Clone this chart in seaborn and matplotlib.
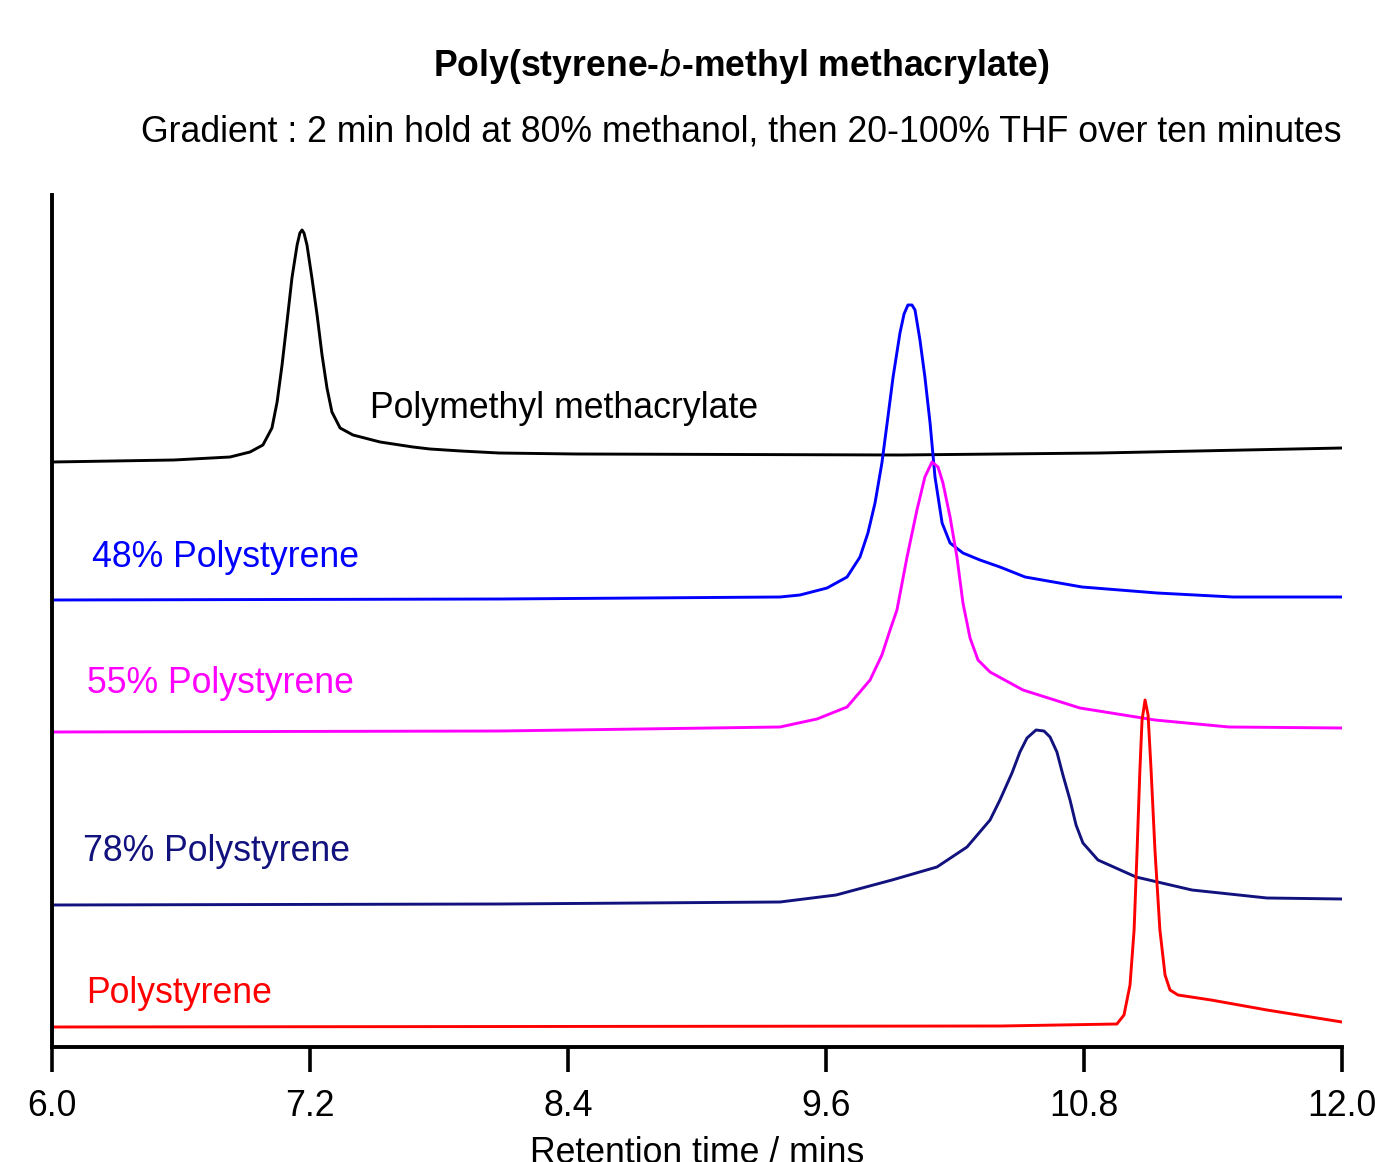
import numpy as np
import pandas as pd
import matplotlib
matplotlib.use("Agg")
import matplotlib.pyplot as plt
import seaborn as sns

# ---- data (time in min, detector response in arbitrary units, stacked) ----
pmma_t = [6.000, 6.567, 6.828, 6.921, 6.981, 7.023, 7.047, 7.070, 7.093, 7.116, 7.140, 7.153, 7.163,
          7.172, 7.186, 7.209, 7.233, 7.256, 7.279, 7.302, 7.340, 7.400, 7.526, 7.679, 7.758, 7.902,
          8.079, 8.437, 9.944, 10.874, 12.000]
pmma_s = [585, 587, 590, 595, 602, 619, 645, 682, 725, 769, 802, 814, 817,
          814, 802, 769, 732, 692, 659, 635, 619, 612, 605, 600, 598, 596,
          594, 593, 592, 594, 599]

ps48_t = [6.000, 8.084, 9.386, 9.479, 9.605, 9.698, 9.758, 9.795, 9.828, 9.860, 9.888, 9.912, 9.944,
          9.963, 9.981, 10.000, 10.014, 10.037, 10.060, 10.084, 10.107, 10.140, 10.177, 10.237, 10.316,
          10.409, 10.526, 10.791, 11.140, 11.493, 12.000]
ps48_s = [447, 448, 450, 452, 459, 470, 490, 514, 544, 584, 630, 670, 714,
          733, 742, 742, 737, 707, 670, 624, 570, 524, 504, 494, 487,
          480, 470, 460, 454, 450, 450]

ps55_t = [6.000, 8.084, 9.386, 9.558, 9.698, 9.805, 9.860, 9.898, 9.930, 9.977, 10.023, 10.060, 10.093,
          10.121, 10.144, 10.177, 10.209, 10.237, 10.270, 10.307, 10.363, 10.516, 10.781, 11.130,
          11.474, 12.000]
ps55_s = [315, 316, 320, 328, 340, 367, 392, 417, 437, 490, 537, 570, 585,
          580, 564, 530, 490, 444, 409, 387, 375, 357, 339, 327,
          320, 319]

ps78_t = [6.000, 8.084, 9.386, 9.647, 9.907, 10.116, 10.256, 10.363, 10.409, 10.465, 10.502, 10.535,
          10.577, 10.614, 10.642, 10.674, 10.702, 10.735, 10.763, 10.795, 10.865, 11.042, 11.302,
          11.651, 12.000]
ps78_s = [142, 143, 145, 152, 167, 180, 200, 227, 247, 274, 295, 309,
          317, 316, 310, 295, 272, 247, 222, 204, 187, 170, 157,
          149, 148]

ps_t = [6.000, 10.414, 10.953, 10.986, 11.014, 11.033, 11.047, 11.060, 11.070, 11.084, 11.098, 11.112,
        11.130, 11.153, 11.177, 11.200, 11.237, 11.391, 11.651, 12.000]
ps_s = [20, 21, 23, 32, 62, 117, 197, 277, 327, 347, 332, 277,
        197, 117, 72, 57, 52, 47, 37, 25]

series_names = ["Polymethyl methacrylate", "48% Polystyrene", "55% Polystyrene",
                "78% Polystyrene", "Polystyrene"]
series_colors = ["#000000", "#0000ff", "#ff00ff", "#12127e", "#ff0000"]
x_ticks = [6.0, 7.2, 8.4, 9.6, 10.8, 12.0]
x_tick_labels = ["6.0", "7.2", "8.4", "9.6", "10.8", "12.0"]

# label anchor positions (time, response)
label_pos = [(7.479, 629), (6.186, 480), (6.163, 354), (6.144, 186), (6.158, 44)]

sns.set_style("white")
plt.rcParams["font.family"] = ["Liberation Sans", "DejaVu Sans"]
plt.rcParams["text.color"] = "black"
plt.rcParams["axes.labelcolor"] = "black"
plt.rcParams["xtick.color"] = "black"

FS = 25.7

frames = []
for name, t, s in zip(series_names,
                      [pmma_t, ps48_t, ps55_t, ps78_t, ps_t],
                      [pmma_s, ps48_s, ps55_s, ps78_s, ps_s]):
    frames.append(pd.DataFrame({"time": t, "signal": s, "sample": name}))
df = pd.concat(frames, ignore_index=True)

fig = plt.figure(figsize=(13.75, 11.62), dpi=100)
ax = fig.add_axes([52 / 1375, 1 - 1047 / 1162, 1290 / 1375, 852 / 1162])

sns.lineplot(data=df, x="time", y="signal", hue="sample", hue_order=series_names,
             palette=series_colors, sort=False, estimator=None, linewidth=2.1,
             legend=False, ax=ax)
for ln in ax.get_lines():
    ln.set_solid_joinstyle("round")
    ln.set_solid_capstyle("round")

ax.set_xlim(6.0, 12.0)
ax.set_ylim(0, 852)
ax.set_xticks(x_ticks)
ax.set_xticklabels(x_tick_labels)
ax.set_yticks([])
ax.tick_params(axis="x", direction="out", length=18, width=2.6, pad=12,
               labelsize=FS, color="black", labelcolor="black", bottom=True)
for sp in ["top", "right"]:
    ax.spines[sp].set_visible(False)
for sp in ["left", "bottom"]:
    ax.spines[sp].set_visible(True)
    ax.spines[sp].set_linewidth(2.8)
    ax.spines[sp].set_color("black")
ax.set_xlabel("Retention time / mins", fontsize=FS, labelpad=9, color="black")
ax.set_ylabel("")

for name, col, (lx, ly) in zip(series_names, series_colors, label_pos):
    ax.text(lx, ly, name, color=col, fontsize=FS, ha="left", va="baseline")

fig.text(741 / 1375, 1 - 76 / 1162, "Poly(styrene-$\\mathbf{\\it{b}}$-methyl methacrylate)",
         ha="center", va="baseline", fontsize=FS, fontweight="bold", color="black")
fig.text(741 / 1375, 1 - 141 / 1162,
         "Gradient : 2 min hold at 80% methanol, then 20-100% THF over ten minutes",
         ha="center", va="baseline", fontsize=FS, color="black")

fig.savefig("out.png", dpi=100)
